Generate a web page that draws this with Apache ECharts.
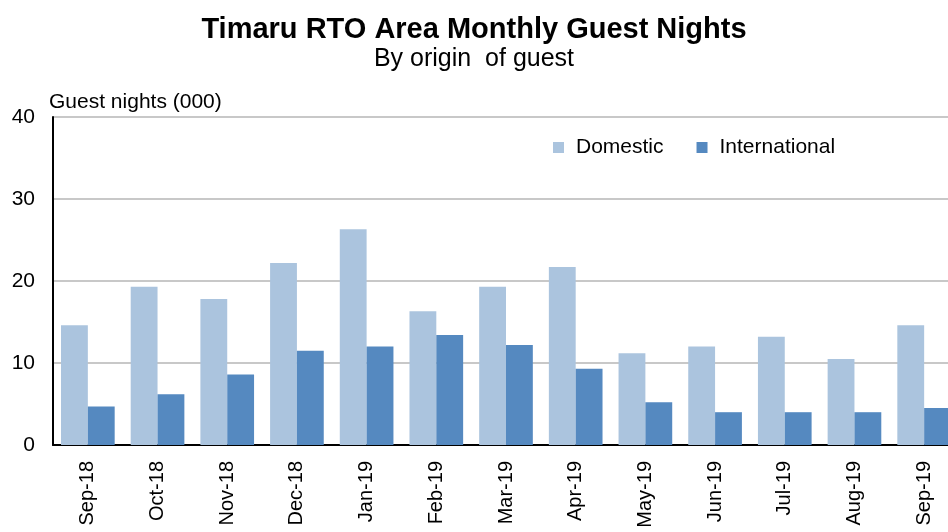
<!DOCTYPE html>
<html>
<head>
    <meta charset="utf-8">
    <script src="https://cdn.jsdelivr.net/npm/echarts@6/dist/echarts.min.js"></script>
</head>
<body style="margin:0;">
    <div id="main" style="width: 948px;height:532px;"></div>
    <script type="text/javascript">
        var months = ['Sep-18', 'Oct-18', 'Nov-18', 'Dec-18', 'Jan-19', 'Feb-19', 'Mar-19',
            'Apr-19', 'May-19', 'Jun-19', 'Jul-19', 'Aug-19', 'Sep-19'];
        var domestic = [14.6, 19.3, 17.8, 22.2, 26.3, 16.3, 19.3, 21.7, 11.2, 12.0, 13.2, 10.5, 14.6];
        var international = [4.7, 6.2, 8.6, 11.5, 12.0, 13.4, 12.2, 9.3, 5.2, 4.0, 4.0, 4.0, 4.5];

        var myChart = echarts.init(document.getElementById('main'));
        var font = 'Liberation Sans, Arial, sans-serif';

        var option = {
            animation: false,
            title: {
                text: 'Timaru RTO Area Monthly Guest Nights',
                subtext: 'By origin  of guest',
                left: 'center',
                top: 10,
                itemGap: 3,
                textStyle: { fontFamily: font, fontSize: 29, fontWeight: 'bold', color: '#000' },
                subtextStyle: { fontFamily: font, fontSize: 25, color: '#000' }
            },
            legend: {
                data: ['Domestic', 'International'],
                left: 548,
                top: 132,
                itemWidth: 11,
                itemHeight: 11,
                itemGap: 33,
                icon: 'rect',
                textStyle: { fontFamily: font, fontSize: 21, color: '#000', padding: [0, 0, 0, 7] }
            },
            grid: {
                left: 53,
                right: -11,
                top: 117,
                bottom: 87,
                outerBoundsMode: 'none'
            },
            xAxis: {
                type: 'category',
                data: months,
                axisLine: { lineStyle: { color: '#000', width: 2 } },
                axisTick: { show: false },
                axisLabel: {
                    rotate: 90,
                    interval: 0,
                    margin: 16,
                    fontFamily: font,
                    fontSize: 20,
                    color: '#000'
                }
            },
            yAxis: {
                type: 'value',
                min: 0,
                max: 40,
                interval: 10,
                name: 'Guest nights (000)',
                nameLocation: 'end',
                nameGap: 4,
                nameTextStyle: { fontFamily: font, fontSize: 21, color: '#000', align: 'left', padding: [0, 0, 0, -4] },
                axisLine: { show: true, lineStyle: { color: '#000', width: 2 } },
                axisTick: { show: false },
                axisLabel: { fontFamily: font, fontSize: 21, color: '#000', margin: 18 },
                splitLine: { lineStyle: { color: '#c8c8c8', width: 2 } }
            },
            series: [
                {
                    name: 'Domestic',
                    type: 'bar',
                    data: domestic,
                    barGap: '0%',
                    barCategoryGap: '23%',
                    itemStyle: { color: '#abc4de' }
                },
                {
                    name: 'International',
                    type: 'bar',
                    data: international,
                    itemStyle: { color: '#5589c0' }
                }
            ]
        };
        myChart.setOption(option);
    </script>
</body>
</html>
